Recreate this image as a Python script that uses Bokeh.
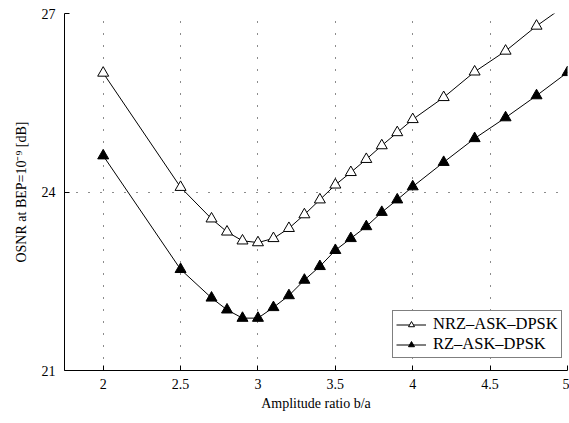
from bokeh.plotting import figure
from bokeh.models import Range1d, FixedTicker, Legend, LegendItem
from bokeh.embed import file_html
from bokeh.resources import INLINE

ratio = [2.0, 2.5, 2.7, 2.8, 2.9, 3.0, 3.1, 3.2, 3.3, 3.4, 3.5, 3.6, 3.7, 3.8, 3.9, 4.0, 4.2, 4.4, 4.6, 4.8, 5.0]
nrz_osnr = [26.0, 24.08, 23.55, 23.33, 23.18, 23.15, 23.22, 23.39, 23.62, 23.87, 24.12, 24.33, 24.55, 24.78, 25.0, 25.22, 25.59, 26.02, 26.37, 26.79, 27.16]
rz_osnr = [24.61, 22.70, 22.22, 22.02, 21.88, 21.88, 22.06, 22.26, 22.52, 22.75, 23.02, 23.22, 23.42, 23.66, 23.87, 24.09, 24.5, 24.9, 25.25, 25.62, 26.01]
x_ticks = [2, 2.5, 3, 3.5, 4, 4.5, 5]
y_ticks = [21, 24, 27]
series_names = ["NRZ\u2013ASK\u2013DPSK", "RZ\u2013ASK\u2013DPSK"]

FONT = "Liberation Serif"

p = figure(width=569, height=423, output_backend="svg", toolbar_location=None,
           x_range=Range1d(1.75, 5.0), y_range=Range1d(21, 27),
           min_border_left=64, min_border_right=2, min_border_top=13, min_border_bottom=53)
p.outline_line_color = None
p.background_fill_color = "white"

for ax in (p.xaxis[0], p.yaxis[0]):
    ax.major_tick_in = 5
    ax.major_tick_out = 0
    ax.minor_tick_line_color = None
    ax.axis_line_color = "black"
    ax.major_tick_line_color = "black"
    ax.major_label_text_font = FONT
    ax.major_label_text_font_size = "14px"
    ax.major_label_text_color = "black"
    ax.axis_label_text_font = FONT
    ax.axis_label_text_font_size = "14px"
    ax.axis_label_text_font_style = "normal"
    ax.axis_label_text_color = "black"

p.xaxis.ticker = FixedTicker(ticks=x_ticks)
p.yaxis.ticker = FixedTicker(ticks=y_ticks)
p.xaxis.major_label_standoff = 8
p.yaxis.major_label_standoff = 9
p.xaxis.axis_label = "Amplitude ratio b/a"
p.xaxis.axis_label_standoff = 4
p.yaxis.axis_label = "OSNR at BEP=10\u207b\u2079 [dB]"
p.yaxis.axis_label_standoff = 10

p.grid.grid_line_color = "black"
p.grid.grid_line_dash = "1 11"
p.grid.grid_line_width = 1
p.grid.grid_line_alpha = 0.9

l1 = p.line(ratio, nrz_osnr, line_color="black", line_width=1)
m1 = p.scatter(ratio, nrz_osnr, marker="triangle", size=11, fill_color="white",
               line_color="black", line_width=1)
l2 = p.line(ratio, rz_osnr, line_color="black", line_width=1)
m2 = p.scatter(ratio, rz_osnr, marker="triangle", size=11, fill_color="black",
               line_color="black", line_width=1)

legend = Legend(items=[LegendItem(label=series_names[0], renderers=[l1, m1]),
                       LegendItem(label=series_names[1], renderers=[l2, m2])],
                location=(328, 12))
legend.label_text_font = FONT
legend.label_text_font_size = "16.5px"
legend.label_text_color = "black"
legend.border_line_color = "black"
legend.border_line_width = 1
legend.background_fill_color = "white"
legend.background_fill_alpha = 1
legend.glyph_width = 30
legend.glyph_height = 15
legend.label_height = 15
legend.label_standoff = 7
legend.padding = 3
legend.spacing = 0
legend.margin = 0
p.add_layout(legend, "center")

open("out.html", "w").write(file_html(p, INLINE))
